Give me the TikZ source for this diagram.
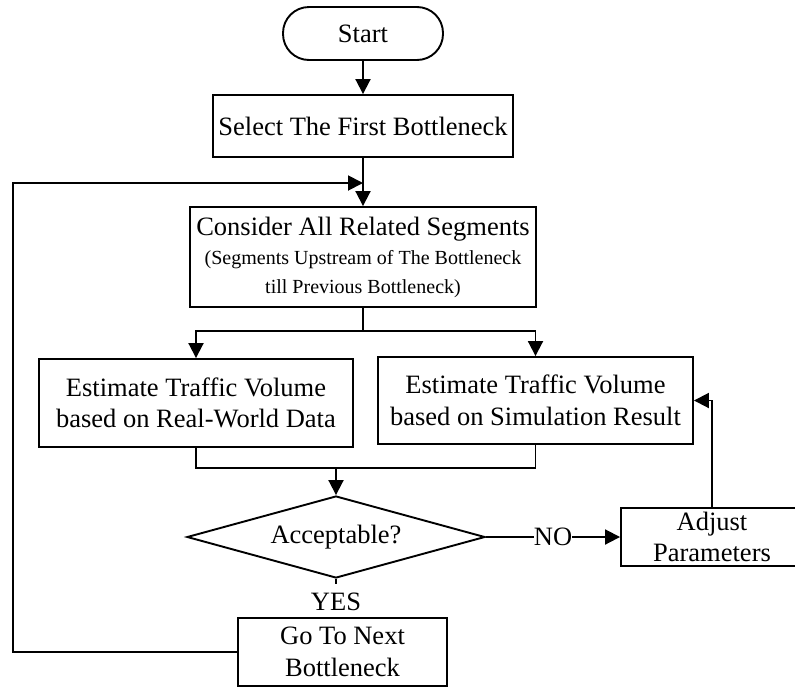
\documentclass[tikz,border=0pt]{standalone}
\usepackage{fontspec}
\setmainfont{Liberation Serif}
\usetikzlibrary{arrows.meta,shapes.geometric,calc}
\begin{document}
\begin{tikzpicture}[x=1pt,y=-1pt,
  line width=1.9pt,
  every node/.style={font=\fontsize{26.5}{31.5}\selectfont, align=center, inner sep=0pt},
  box/.style={draw, rectangle},
  startbox/.style={draw, rectangle, rounded corners=26pt},
  decision/.style={draw, diamond, aspect=3.6},
  flow/.style={-{Triangle[length=15pt,width=15pt]}},
]
\useasboundingbox (0,0) rectangle (795,686);

% process steps
\node[startbox, minimum width=160pt, minimum height=53pt] (start) at (363,33.5) {Start};
\node[box, minimum width=300pt, minimum height=62pt] (select) at (363,126) {Select The First Bottleneck};
\node[box, minimum width=346pt, minimum height=100pt, font=\fontsize{20}{29}\selectfont] (consider) at (363,257)
  {{\fontsize{26.5}{29}\selectfont Consider All Related Segments}\\(Segments Upstream of The Bottleneck\\till Previous Bottleneck)};
\node[box, minimum width=314pt, minimum height=88pt] (real) at (196,403) {Estimate Traffic Volume\\based on Real-World Data};
\node[box, minimum width=315pt, minimum height=87pt] (sim) at (535.5,400.5) {Estimate Traffic Volume\\based on Simulation Result};
\node[decision, minimum width=298pt, minimum height=82pt] (ok) at (336,537) {Acceptable?};
\node[box, minimum width=182pt, minimum height=58pt] (adjust) at (712,537) {Adjust\\Parameters};
\node[box, minimum width=209pt, minimum height=68pt] (next) at (342.5,652) {Go To Next\\Bottleneck};
\node[inner ysep=8pt] (yes) at (336,602) {YES};

% main flow
\coordinate (join) at (363,183);
\coordinate (split) at (363,331);
\coordinate (merge) at (336,468);
\draw[flow] (start) -- (select);
\draw[flow] (select) -- (consider);
\draw (consider) -- (split);
\draw[flow] (split) -| (real.north);
\draw[flow] (split) -| (sim.north);
\draw (real.south) |- (merge);
\draw (sim.south) |- (merge);
\draw[flow] (merge) -- (ok.north);

% decision branches
\draw (ok.south) -- (yes.north);
\draw[flow] (ok.east) -- node[fill=white, inner xsep=0pt, inner ysep=3pt] (no) {NO} (adjust.west);
\draw[flow] (adjust.north) |- (sim.east);
\draw[flow] (next.west) -- ++(-224,0) |- (join);
\end{tikzpicture}
\end{document}
